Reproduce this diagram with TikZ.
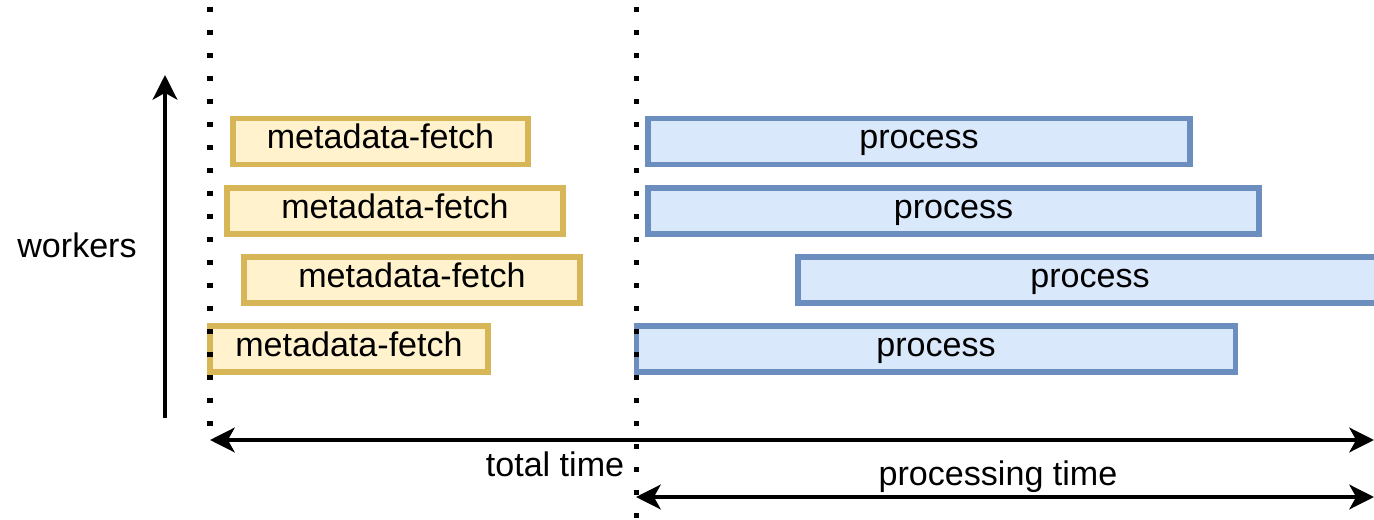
\documentclass[tikz,border=0pt]{standalone}
\usepackage{fontspec}
\setmainfont{Liberation Sans}
\usetikzlibrary{arrows.meta}

\definecolor{fetchfill}{HTML}{FFF2CC}
\definecolor{fetchline}{HTML}{D6B656}
\definecolor{procfill}{HTML}{DAE8FC}
\definecolor{procline}{HTML}{6C8EBF}

\tikzset{
  label/.style={text height=12pt,text depth=4pt},
  fetch/.style={label,draw=fetchline,fill=fetchfill,line width=3.1pt,inner sep=0pt,minimum height=0.92cm},
  proc/.style={label,draw=procline,fill=procfill,line width=3.1pt,inner sep=0pt,minimum height=0.92cm},
  marker/.style={line width=2.85pt,dash pattern=on 2.85pt off 10.25pt,dash phase=-4pt},
  tip/.tip={Stealth[length=14pt,width=14pt,inset=3.8pt]}
}

\begin{document}
\begin{tikzpicture}[x=0.02cm,y=-0.02cm,font=\fontsize{19.4}{23}\selectfont,line width=2.3pt]
  \useasboundingbox (0,0) rectangle (1374,520);

  % Knoten
  \node[fetch,minimum width=5.9cm] (f1) at (380.5,141.5) {metadata-fetch};
  \node[fetch,minimum width=6.72cm] (f2) at (395,211) {metadata-fetch};
  \node[fetch,minimum width=6.72cm] (f3) at (412,280) {metadata-fetch};
  \node[fetch,minimum width=5.56cm] (f4) at (349,349) {metadata-fetch};

  \node[proc,minimum width=10.84cm] (p1) at (919,141.5) {process};
  \node[proc,minimum width=12.22cm] (p2) at (953.5,211) {process};
  \node[proc,minimum width=11.68cm] (p3) at (1090,280) {process};
  \node[proc,minimum width=11.98cm] (p4) at (936,349) {process};

  \node[label] (workers) at (77,250) {workers};
  \node[label] (total) at (555,469) {total time};
  \node[label] (processing) at (998,478) {processing time};

  % Hilfspunkte
  \coordinate (w0) at (165,418);
  \coordinate (w1) at (165,75);
  \coordinate (s0) at (210,0);
  \coordinate (s1) at (210,432);
  \coordinate (m0) at (636,0);
  \coordinate (m1) at (636,520);
  \coordinate (tl) at (210,440);
  \coordinate (tr) at (1374,440);
  \coordinate (pl) at (636,497);
  \coordinate (pr) at (1374,497);

  % Linien
  \draw[marker] (s0) -- (s1);
  \draw[marker] (m0) -- (m1);

  % Pfeile
  \draw[-tip] (w0) -- (w1);
  \draw[tip-tip] (tl) -- (tr);
  \draw[tip-tip] (pl) -- (pr);
\end{tikzpicture}
\end{document}
